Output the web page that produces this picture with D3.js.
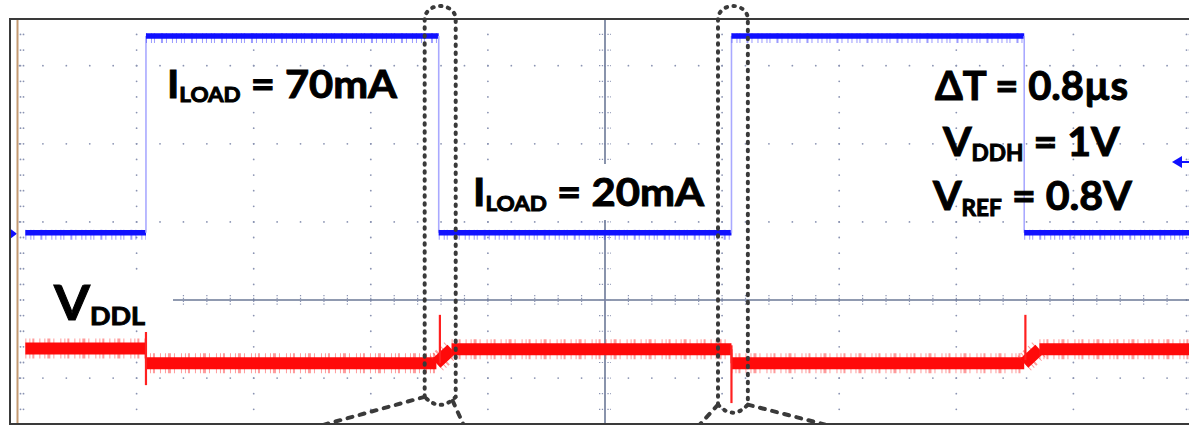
<!DOCTYPE html>
<html><head><meta charset="utf-8">
<script src="https://cdn.jsdelivr.net/npm/d3@7"></script>
<style>body{margin:0;background:#fff}svg{display:block}</style>
</head><body>
<svg id="c" width="1189" height="425"></svg>
<script>
// ---- data (time and amplitude in scope divisions) ----
const blueTimes = [-4.95, -3.92, -3.92, -1.42, -1.42, 1.08, 1.08, 3.58, 3.58, 4.99];
const blueVolts = [0.86, 0.86, 3.38, 3.38, 0.86, 0.86, 3.38, 3.38, 0.86, 0.86];

const redTimes = [-4.95, -3.92, -3.92, -1.44, -1.31, 1.08, 1.08, 3.58, 3.71, 4.99];
const redVolts = [-0.62, -0.62, -0.81, -0.81, -0.63, -0.63, -0.81, -0.81, -0.63, -0.63];

const spikeTimes = [-3.92, -1.41, 1.08, 3.59];
const spikeHigh = [-0.41, -0.19, -0.58, -0.19];
const spikeLow  = [-1.09, -0.81, -1.32, -0.77];

const zoomStart = [-1.54, 0.965];
const zoomEnd   = [-1.275, 1.22];
const zoomBottom = [-1.24, -1.34];
const fanLeftX  = [-2.47, 0.79];
const fanRightX = [-1.20, 1.96];

const labelMain = ["I", "I", "ΔT = 0.8µs", "V", "V", "V"];
const labelSub  = ["LOAD", "LOAD", "", "DDH", "REF", "DDL"];
const labelRest = [" = 70mA", " = 20mA", "", " = 1V", " = 0.8V", ""];

// ---- layout ----
const svg = d3.select("#c");
const x = d3.scaleLinear().domain([-5, 5]).range([19.5, 1190.5]);
const y = d3.scaleLinear().domain([-4, 4]).range([612.4, -12.4]);

svg.append("defs").append("clipPath").attr("id","clip")
  .append("rect").attr("x",11).attr("y",20).attr("width",1178).attr("height",403);

const gGrid = svg.append("g").attr("clip-path","url(#clip)");
const dotCol = "#8a93b2";
const minorX = d3.range(-25, 26).map(d => d / 5);
const minorY = d3.range(-20, 21).map(d => d / 5);
[-4,-3,-2,-1,1,2,3,4].forEach(c => {
  gGrid.selectAll(null).data(minorY).enter().append("circle")
    .attr("cx", x(c)).attr("cy", d => y(d)).attr("r", 0.9).attr("fill", dotCol);
});
[-3,-2,-1,1,2,3].forEach(r => {
  gGrid.selectAll(null).data(minorX).enter().append("circle")
    .attr("cx", d => x(d)).attr("cy", y(r)).attr("r", 0.9).attr("fill", dotCol);
});
[-5, 5].forEach(c => {
  const dir = c < 0 ? 1 : -1;
  [1, 4].forEach(o => {
    gGrid.selectAll(null).data(minorY).enter().append("circle")
      .attr("cx", x(c) + dir * o).attr("cy", d => y(d)).attr("r", 0.9).attr("fill", dotCol);
  });
});
const lineCol = "#6b7896";
gGrid.append("line").attr("x1", 173).attr("x2", 1190).attr("y1", y(0)).attr("y2", y(0))
  .attr("stroke", lineCol).attr("stroke-width", 1.6);
gGrid.append("line").attr("x1", x(0)).attr("x2", x(0)).attr("y1", 19).attr("y2", 424)
  .attr("stroke", lineCol).attr("stroke-width", 1.6);
gGrid.selectAll(null).data(minorX.filter(d => x(d) > 175)).enter().append("line")
  .attr("x1", d => x(d)).attr("x2", d => x(d)).attr("y1", y(0) - 5).attr("y2", y(0) + 5)
  .attr("stroke", dotCol).attr("stroke-width", 1.2).attr("stroke-dasharray", "1.3,1.5");
gGrid.selectAll(null).data(minorY).enter().append("line")
  .attr("x1", x(0) - 6).attr("x2", x(0) + 6).attr("y1", d => y(d)).attr("y2", d => y(d))
  .attr("stroke", dotCol).attr("stroke-width", 1.2).attr("stroke-dasharray", "1.3,1.5");

const boxes = [[25, 276, 147, 52], [158, 68, 250, 42], [462, 164, 254, 56]];
svg.selectAll(null).data(boxes).enter().append("rect")
  .attr("x", d => d[0]).attr("y", d => d[1]).attr("width", d => d[2]).attr("height", d => d[3])
  .attr("fill", "#fff");

// ---- traces ----
const gT = svg.append("g").attr("clip-path","url(#clip)");
const bluePts = blueTimes.map((t, i) => [x(t), y(blueVolts[i])]);
for (let i = 0; i < bluePts.length - 1; i++) {
  const a = bluePts[i], b = bluePts[i + 1];
  if (blueVolts[i] === blueVolts[i + 1]) {
    gT.append("line").attr("x1", a[0]).attr("x2", b[0]).attr("y1", a[1] + 2).attr("y2", b[1] + 2)
      .attr("stroke", "#3a3aff").attr("stroke-width", 10).attr("stroke-opacity", 0.5)
      .attr("stroke-dasharray", "1,4,1,2,1,6,2,3,1,5,1,3");
    gT.append("line").attr("x1", a[0]).attr("x2", b[0]).attr("y1", a[1]).attr("y2", b[1])
      .attr("stroke", "#1010ff").attr("stroke-width", 5.5);
  } else {
    gT.append("line").attr("x1", a[0]).attr("x2", b[0]).attr("y1", a[1]).attr("y2", b[1])
      .attr("stroke", "#a9a9ff").attr("stroke-width", 1.6);
  }
}
const redPts = redTimes.map((t, i) => [x(t), y(redVolts[i])]);
for (let i = 0; i < redPts.length - 1; i++) {
  const a = redPts[i], b = redPts[i + 1];
  if (redTimes[i] === redTimes[i + 1]) {
    gT.append("line").attr("x1", a[0]).attr("x2", b[0]).attr("y1", a[1]).attr("y2", b[1])
      .attr("stroke", "#ff3030").attr("stroke-width", 2);
  } else {
    gT.append("line").attr("x1", a[0]).attr("x2", b[0]).attr("y1", a[1]).attr("y2", b[1])
      .attr("stroke", "#ff3a3a").attr("stroke-width", 20).attr("stroke-opacity", 0.5)
      .attr("stroke-dasharray", "1,3,1,2,2,5,1,4,1,2,3,3,1,6");
    gT.append("line").attr("x1", a[0]).attr("x2", b[0]).attr("y1", a[1]).attr("y2", b[1])
      .attr("stroke", "#ff0a0a").attr("stroke-width", 12);
  }
}
gT.selectAll(null).data(spikeTimes).enter().append("line")
  .attr("x1", d => x(d)).attr("x2", d => x(d))
  .attr("y1", (d, i) => y(spikeHigh[i])).attr("y2", (d, i) => y(spikeLow[i]))
  .attr("stroke", "#ff2020").attr("stroke-width", 2.2);

// channel markers
svg.append("path").attr("d", `M10,${y(0.78)} L17,${y(0.86) + 1} L10,${y(0.94) + 2}Z`).attr("fill", "#1010ff");
const my = 162;
svg.append("path").attr("d", `M1172,${my} L1182,${my - 6} L1182,${my + 6}Z`).attr("fill", "#1010ff");
svg.append("line").attr("x1", 1180).attr("x2", 1189).attr("y1", my).attr("y2", my)
  .attr("stroke", "#1010ff").attr("stroke-width", 2);

// ---- labels ----
const labelLeft  = [167, 473, 935, 942, 932, 53];
const labelRight = [398, 705, 1128, 1120, 1132, 145];
const labelBase  = [98.5, 206.5, 100, 156, 210, 320];
const labelSize  = [39, 39, 40, 40, 40, 48];
const labelSubSize = [21, 21, 21, 22, 22, 25];
const labelDrop  = [3.5, 5, 0, 5.5, 6.5, 5];
labelMain.forEach((m, i) => {
  const t = svg.append("text").attr("x", labelLeft[i]).attr("y", labelBase[i])
    .attr("font-family", "Lato, 'Open Sans', sans-serif").attr("font-weight", 700)
    .attr("font-size", labelSize[i]).attr("fill", "#000")
    .attr("stroke", "#000").attr("stroke-width", 1);
  t.append("tspan").text(m);
  if (labelSub[i]) {
    t.append("tspan").attr("font-size", labelSubSize[i]).attr("dy", labelDrop[i]).text(labelSub[i]);
    if (labelRest[i]) t.append("tspan").attr("dy", -labelDrop[i]).text(labelRest[i]);
  }
  const bb = t.node().getBBox();
  const sx = (labelRight[i] - labelLeft[i]) / bb.width;
  t.attr("transform", `translate(${labelLeft[i]},0) scale(${sx},1) translate(${-bb.x},0)`);
});

// ---- frame ----
svg.append("line").attr("x1", 17.5).attr("x2", 17.5).attr("y1", 20).attr("y2", 423)
  .attr("stroke", "#c49a72").attr("stroke-width", 2);
svg.append("path").attr("d", "M1189,19 L10,19 L10,424 L1189,424")
  .attr("fill", "none").attr("stroke", "#3a3a3a").attr("stroke-width", 2);

// ---- zoom-window annotations ----
const dashCol = "#3a3a3a";
zoomStart.forEach((s, i) => {
  const xl = x(s), xr = x(zoomEnd[i]), yb = y(zoomBottom[i]);
  const mid = (xl + xr) / 2;
  const d = `M${xl},${yb} L${xl},19 A${(xr - xl) / 2},13 0 0 1 ${xr},19 L${xr},${yb} Q${mid},${yb + 16} ${xl},${yb}`;
  svg.append("path").attr("d", d).attr("fill", "none").attr("stroke", dashCol)
    .attr("stroke-width", 4).attr("stroke-dasharray", "1.5,6.5").attr("stroke-linecap", "round");
  svg.append("line").attr("x1", xl).attr("y1", yb).attr("x2", x(fanLeftX[i])).attr("y2", 427)
    .attr("stroke", dashCol).attr("stroke-width", 4).attr("stroke-dasharray", "5,7.5").attr("stroke-linecap", "round");
  svg.append("line").attr("x1", xr - (i === 0 ? 3 : 0)).attr("y1", yb + (i === 0 ? 4 : 0))
    .attr("x2", x(fanRightX[i])).attr("y2", 427)
    .attr("stroke", dashCol).attr("stroke-width", 4).attr("stroke-dasharray", "5,7.5").attr("stroke-linecap", "round");
});
</script>
</body></html>
